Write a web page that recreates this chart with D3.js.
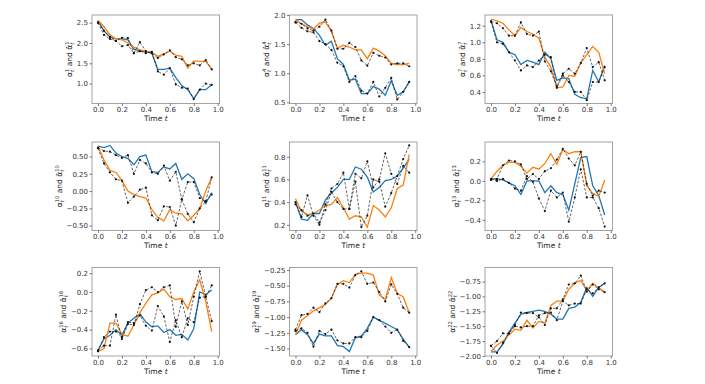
<!DOCTYPE html>
<html>
<head>
<meta charset="utf-8">
<script src="https://cdn.jsdelivr.net/npm/d3@7"></script>
<style>
  body { margin: 0; background: #fff; }
  text { font-family: "DejaVu Sans", sans-serif; }
</style>
</head>
<body>
<svg id="chart" width="705" height="384"></svg>
<script>
// time grid, one value per step
var times = [0, 0.05, 0.1, 0.15, 0.2, 0.25, 0.3, 0.35, 0.4, 0.45, 0.5, 0.55, 0.6, 0.65, 0.7, 0.75, 0.8, 0.85, 0.9, 0.95];
var panelIds = ["1", "4", "7", "10", "11", "13", "16", "19", "22"];

var blueSeries = [
  [2.55, 2.30, 2.15, 2.10, 2.10, 2.08, 1.85, 1.80, 1.78, 1.75, 1.35, 1.35, 1.38, 1.15, 0.95, 0.85, 0.63, 0.85, 0.85, 0.97],
  [1.92, 1.92, 1.83, 1.77, 1.65, 1.48, 1.55, 1.25, 1.15, 0.88, 0.90, 0.65, 0.65, 0.77, 0.73, 0.62, 0.87, 0.62, 0.68, 0.85],
  [1.27, 1.03, 1.00, 0.88, 0.85, 0.73, 0.78, 0.76, 0.73, 0.88, 0.80, 0.54, 0.57, 0.56, 0.37, 0.33, 0.32, 0.66, 0.52, 0.72],
  [0.65, 0.63, 0.66, 0.55, 0.50, 0.47, 0.38, 0.50, 0.52, 0.28, 0.27, 0.35, 0.32, 0.40, 0.17, 0.25, 0.18, -0.05, -0.18, -0.02],
  [0.40, 0.25, 0.24, 0.30, 0.30, 0.42, 0.48, 0.53, 0.60, 0.60, 0.71, 0.69, 0.62, 0.49, 0.53, 0.59, 0.60, 0.63, 0.70, 0.78],
  [0.02, 0.02, 0.01, -0.02, -0.05, -0.14, 0.00, 0.00, 0.00, -0.12, -0.05, -0.12, -0.14, -0.30, -0.03, 0.24, 0.25, -0.05, -0.15, -0.35],
  [-0.62, -0.50, -0.46, -0.40, -0.46, -0.33, -0.28, -0.23, -0.32, -0.37, -0.36, -0.43, -0.40, -0.46, -0.45, -0.51, -0.39, 0.00, -0.03, 0.02],
  [-1.28, -1.20, -1.28, -1.42, -1.27, -1.30, -1.30, -1.45, -1.47, -1.55, -1.33, -1.30, -1.18, -1.00, -1.05, -1.10, -1.15, -1.20, -1.35, -1.48],
  [-1.93, -1.93, -1.80, -1.60, -1.45, -1.30, -1.27, -1.25, -1.23, -1.25, -1.30, -1.38, -1.38, -1.20, -1.18, -1.10, -0.85, -1.00, -0.85, -0.78]
];

var orangeSeries = [
  [2.56, 2.40, 2.20, 2.10, 2.08, 2.00, 1.90, 1.83, 1.80, 1.77, 1.67, 1.73, 1.80, 1.70, 1.67, 1.38, 1.56, 1.55, 1.55, 1.36],
  [1.92, 1.85, 1.80, 1.76, 1.86, 1.88, 1.72, 1.43, 1.48, 1.45, 1.40, 1.40, 1.25, 1.43, 1.38, 1.30, 1.17, 1.15, 1.15, 1.17],
  [1.28, 1.26, 1.23, 1.15, 1.08, 1.18, 1.13, 1.10, 1.05, 0.82, 0.70, 0.45, 0.46, 0.60, 0.59, 0.75, 0.85, 0.95, 0.88, 0.62],
  [0.65, 0.45, 0.30, 0.27, 0.15, 0.00, -0.05, -0.08, -0.10, -0.27, -0.38, -0.43, -0.27, -0.32, -0.33, -0.43, -0.35, -0.25, 0.00, 0.20],
  [0.43, 0.32, 0.29, 0.30, 0.33, 0.37, 0.38, 0.44, 0.35, 0.25, 0.28, 0.27, 0.18, 0.37, 0.33, 0.27, 0.35, 0.52, 0.55, 0.82],
  [0.02, 0.10, 0.16, 0.19, 0.19, 0.15, 0.08, 0.14, 0.12, 0.18, 0.28, 0.17, 0.32, 0.28, 0.30, 0.30, -0.05, -0.13, -0.16, 0.01],
  [-0.63, -0.60, -0.33, -0.33, -0.45, -0.47, -0.35, -0.22, -0.12, -0.03, -0.01, 0.03, -0.05, -0.08, -0.07, -0.18, 0.00, 0.13, -0.10, -0.42],
  [-1.28, -1.05, -0.98, -0.90, -0.85, -0.80, -0.70, -0.48, -0.42, -0.45, -0.32, -0.30, -0.30, -0.33, -0.65, -0.72, -0.37, -0.62, -0.68, -0.93],
  [-1.92, -1.82, -1.75, -1.65, -1.55, -1.57, -1.40, -1.53, -1.42, -1.45, -1.15, -1.08, -1.08, -0.88, -0.78, -0.73, -0.90, -0.78, -0.85, -0.93]
];

var dashedA = [
  [2.50, 2.30, 2.15, 2.05, 1.92, 1.95, 1.75, 2.02, 1.80, 1.75, 1.63, 1.72, 1.82, 1.65, 1.60, 1.45, 1.50, 1.45, 1.58, 1.35],
  [1.88, 1.85, 1.77, 1.73, 1.80, 1.92, 1.73, 1.42, 1.42, 1.52, 1.45, 1.22, 1.13, 1.35, 1.30, 1.27, 1.15, 1.17, 1.17, 1.12],
  [1.25, 1.23, 1.17, 1.08, 1.08, 1.24, 1.10, 1.08, 1.13, 0.77, 0.65, 0.47, 0.62, 0.68, 0.62, 0.75, 0.93, 0.70, 0.76, 0.54],
  [0.63, 0.58, 0.57, 0.52, 0.48, 0.52, 0.25, 0.45, 0.40, 0.27, 0.25, 0.37, 0.15, 0.28, -0.12, 0.13, 0.13, -0.10, -0.15, -0.05],
  [0.40, 0.27, 0.46, 0.28, 0.20, 0.38, 0.52, 0.56, 0.66, 0.34, 0.65, 0.61, 0.76, 0.53, 0.60, 0.83, 0.65, 0.56, 0.72, 0.66],
  [0.01, 0.02, 0.16, 0.21, 0.20, 0.17, 0.02, 0.07, 0.02, 0.10, 0.13, 0.22, 0.33, 0.23, 0.16, 0.30, -0.03, -0.15, -0.10, -0.12],
  [-0.62, -0.57, -0.57, -0.24, -0.50, -0.34, -0.35, -0.13, 0.02, 0.05, 0.00, 0.05, 0.07, -0.37, -0.10, -0.35, -0.05, 0.22, -0.05, -0.31],
  [-1.20, -0.97, -0.95, -0.85, -0.92, -0.78, -0.70, -0.47, -0.47, -0.53, -0.33, -0.27, -0.47, -0.45, -0.60, -0.75, -0.48, -0.63, -0.85, -0.93],
  [-1.83, -1.75, -1.62, -1.62, -1.48, -1.27, -1.28, -1.28, -1.35, -1.48, -1.20, -1.20, -1.05, -0.80, -0.78, -0.65, -0.92, -0.80, -0.88, -0.93]
];

var dashedB = [
  [2.50, 2.20, 2.10, 2.05, 2.13, 2.12, 1.75, 1.80, 1.75, 1.78, 1.30, 1.22, 1.38, 0.98, 0.90, 0.88, 0.62, 0.85, 1.00, 0.97],
  [1.87, 1.78, 1.72, 1.70, 1.55, 1.50, 1.40, 1.18, 1.12, 0.85, 0.95, 0.70, 0.65, 0.85, 0.60, 0.75, 0.92, 0.55, 0.68, 0.85],
  [1.25, 1.00, 0.98, 0.88, 0.78, 0.66, 0.72, 0.70, 0.78, 0.85, 0.82, 0.45, 0.60, 0.52, 0.40, 0.40, 0.30, 0.52, 0.52, 0.70],
  [0.62, 0.40, 0.27, 0.17, 0.15, -0.17, -0.08, 0.02, 0.05, -0.35, -0.42, -0.22, -0.23, -0.50, -0.12, -0.33, -0.45, -0.25, -0.15, 0.20],
  [0.38, 0.33, 0.28, 0.30, 0.22, 0.33, 0.49, 0.40, 0.34, 0.34, 0.58, 0.18, 0.28, 0.60, 0.58, 0.36, 0.48, 0.63, 0.78, 0.90],
  [0.02, 0.00, 0.02, -0.02, -0.08, -0.10, 0.05, -0.01, -0.18, -0.31, -0.10, -0.17, -0.12, -0.42, -0.17, 0.12, -0.17, -0.17, -0.28, -0.47],
  [-0.63, -0.48, -0.42, -0.42, -0.48, -0.32, -0.33, -0.25, -0.36, -0.41, -0.15, -0.26, -0.53, -0.30, -0.48, -0.28, -0.32, -0.06, -0.05, 0.07],
  [-1.22, -1.18, -1.25, -1.47, -1.22, -1.27, -1.20, -1.37, -1.42, -1.42, -1.32, -1.32, -1.22, -1.00, -1.05, -1.15, -1.25, -1.20, -1.38, -1.48],
  [-1.83, -1.95, -1.78, -1.62, -1.50, -1.52, -1.50, -1.50, -1.32, -1.28, -1.27, -1.40, -1.08, -1.15, -1.12, -1.12, -0.88, -0.95, -0.85, -0.78]
];

// axis limits and tick labels per panel
var yLimits = [[0.51, 2.69], [0.48, 2.0], [0.26, 1.33], [-0.57, 0.71], [0.15, 0.93], [-0.51, 0.40], [-0.68, 0.26], [-1.62, -0.21], [-2.0, -0.515]];
var yTicks = [
  [1.0, 1.5, 2.0, 2.5],
  [0.5, 1.0, 1.5, 2.0],
  [0.4, 0.6, 0.8, 1.0, 1.2],
  [-0.5, -0.25, 0, 0.25, 0.5],
  [0.2, 0.4, 0.6, 0.8],
  [-0.4, -0.2, 0, 0.2],
  [-0.6, -0.4, -0.2, 0, 0.2],
  [-1.5, -1.25, -1.0, -0.75, -0.5, -0.25],
  [-2.0, -1.75, -1.5, -1.25, -1.0, -0.75]
];
var yDecimals = [1, 1, 1, 2, 1, 1, 1, 2, 2];
var xTicks = [0, 0.2, 0.4, 0.6, 0.8, 1.0];

var colLeft = [92, 289.5, 485];
var rowTop = [15, 142, 267.5];
var w = 127.5, h = 88.5;

var svg = d3.select("#chart");

function yLabel(g, id, cx, cy) {
  var t = g.append("text")
    .attr("transform", "translate(" + cx + "," + cy + ") rotate(-90)")
    .attr("text-anchor", "middle")
    .style("font-size", "7.5px")
    .attr("fill", "#222");
  function alpha(str) {
    t.append("tspan").text(str);
    var sup = t.append("tspan").attr("dy", -3).style("font-size", "5.2px").text(id);
    var supLen = sup.node().getComputedTextLength();
    var sub = t.append("tspan").attr("dx", -supLen).attr("dy", 5).style("font-size", "5.2px")
      .style("font-style", "italic").text("t");
    var subLen = sub.node().getComputedTextLength();
    return Math.max(0, supLen - subLen);
  }
  var gap = alpha("α");
  t.append("tspan").attr("dx", gap).attr("dy", -2).text(" and ");
  var gap2 = alpha("α\u0302");
  t.append("tspan").attr("dx", gap2).attr("dy", -2).text("");
}

panelIds.forEach(function (id, i) {
  var left = colLeft[i % 3], top = rowTop[Math.floor(i / 3)];
  var g = svg.append("g").attr("transform", "translate(" + left + "," + top + ")");

  var x = d3.scaleLinear().domain([-0.05, 1.015]).range([0, w]);
  var y = d3.scaleLinear().domain(yLimits[i]).range([h, 0]);

  var clipId = "clip" + i;
  g.append("clipPath").attr("id", clipId).append("rect").attr("width", w).attr("height", h);

  var plot = g.append("g").attr("clip-path", "url(#" + clipId + ")");
  var line = d3.line().x(function (d, k) { return x(times[k]); }).y(function (d) { return y(d); });

  plot.append("path").datum(blueSeries[i]).attr("d", line)
    .attr("fill", "none").attr("stroke", "#1f77b4").attr("stroke-width", 1.3);
  plot.append("path").datum(orangeSeries[i]).attr("d", line)
    .attr("fill", "none").attr("stroke", "#ff7f0e").attr("stroke-width", 1.3);

  [dashedA[i], dashedB[i]].forEach(function (s) {
    plot.append("path").datum(s).attr("d", line)
      .attr("fill", "none").attr("stroke", "#222").attr("stroke-width", 0.7)
      .attr("stroke-dasharray", "2.6,1.6");
    plot.selectAll(null).data(s).enter().append("circle")
      .attr("cx", function (d, k) { return x(times[k]); })
      .attr("cy", function (d) { return y(d); })
      .attr("r", 1.1).attr("fill", "#111");
  });

  g.append("rect").attr("width", w).attr("height", h)
    .attr("fill", "none").attr("stroke", "#999").attr("stroke-width", 0.9);

  var xAxis = g.append("g").attr("transform", "translate(0," + h + ")")
    .call(d3.axisBottom(x).tickValues(xTicks).tickFormat(d3.format(".1f")).tickSize(2.5).tickPadding(1.5));
  var yAxis = g.append("g")
    .call(d3.axisLeft(y).tickValues(yTicks[i]).tickFormat(d3.format("." + yDecimals[i] + "f")).tickSize(2.5).tickPadding(1.5));

  [xAxis, yAxis].forEach(function (a) {
    a.select(".domain").remove();
    a.selectAll("line").attr("stroke", "#444").attr("stroke-width", 0.7);
    a.selectAll("text").style("font-size", "7px").attr("fill", "#333")
      .style("font-family", "'DejaVu Sans', sans-serif");
  });

  var xl = g.append("text").attr("x", w / 2).attr("y", h + 17.5)
    .attr("text-anchor", "middle").style("font-size", "7.5px").attr("fill", "#222");
  xl.append("tspan").text("Time ");
  xl.append("tspan").style("font-style", "italic").text("t");

  var bb = yAxis.node().getBBox();
  yLabel(g, id, bb.x - 5, h / 2);
});
</script>
</body>
</html>
